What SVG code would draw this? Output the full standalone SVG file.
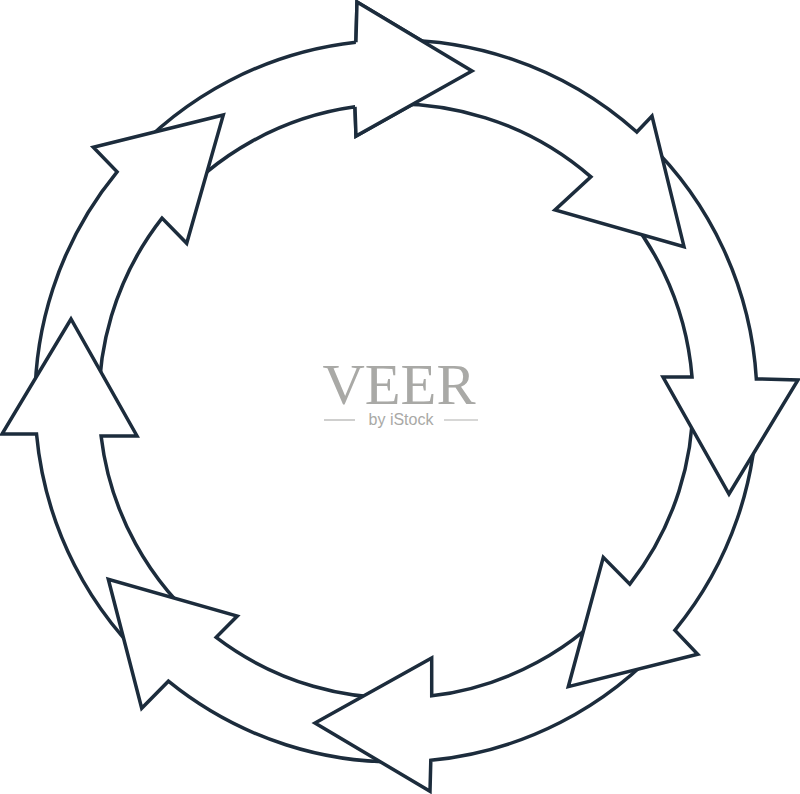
<svg xmlns="http://www.w3.org/2000/svg" width="800" height="794" viewBox="0 0 800 794">
<style>
.arr{fill:#ffffff;stroke:#1c2c3c;stroke-width:3.5;stroke-linejoin:miter;stroke-miterlimit:10}
.hfill{fill:#ffffff;stroke:none}
.hline{fill:none;stroke:#1c2c3c;stroke-width:3.5;stroke-linejoin:miter;stroke-miterlimit:10}
.wm{fill:#a9a9a6}
.wml{stroke:#b0b0ad;stroke-width:1.2}
</style>
<rect width="800" height="794" fill="#ffffff"/>
<g id="arrow-top">
<path class="arr" d="M 125.21,162.27 A 361 361 0 0 1 355.91,42.23 L 357,2 L 472,71 L 356,136 L 354.98,106.84 A 297 297 0 0 0 168.54,210.02 Z"/>
</g>
<g id="arrow-upper-left">
<path class="arr" d="M 35.58,421.39 A 361 361 0 0 1 117.09,171.80 L 93.3,147.3 L 223.3,115 L 186.7,243.3 L 162.02,218.08 A 297 297 0 0 0 100.04,425.79 Z"/>
</g>
<g id="arrow-left">
<path class="arr" d="M 158.69,673.03 A 361 361 0 0 1 36.51,433.95 L 2,434 L 71,319 L 137,436 L 101.09,436.11 A 297 297 0 0 0 208.01,630.93 Z"/>
</g>
<g id="arrow-lower-left">
<path class="arr" d="M 418.25,761.31 A 361 361 0 0 1 168.40,681.21 L 141.7,708.3 L 108.3,579.3 L 237.3,616 L 216.18,637.39 A 297 297 0 0 0 421.41,696.91 Z"/>
</g>
<g id="arrow-bottom">
<path class="arr" d="M 666.67,639.87 A 361 361 0 0 1 430.81,760.32 L 430,791.3 L 315,723 L 431.7,658 L 431.72,695.84 A 297 297 0 0 0 623.18,592.30 Z"/>
</g>
<g id="arrow-lower-right">
<path class="arr" d="M 756.87,391.51 A 361 361 0 0 1 674.84,630.29 L 697.7,654.3 L 568.3,686.7 L 603.3,557.3 L 629.80,584.15 A 297 297 0 0 0 692.69,387.35 Z"/>
</g>
<g id="arrow-right">
<path class="arr" d="M 646.01,140.59 A 361 361 0 0 1 756.33,378.92 L 798,380 L 729,494 L 663,377 L 692.03,377 A 297 297 0 0 0 598.63,183.85 Z"/>
</g>
<g id="arrow-upper-right">
<path class="arr" d="M 368.46,41.05 A 361 361 0 0 1 636.81,132.06 L 652,116 L 684,246.7 L 555,210 L 590.91,176.90 A 297 297 0 0 0 365.27,105.59 Z"/>
</g>
<g id="arrow-top-head">
<path class="hfill" d="M 355.91,42.23 L 357,2 L 472,71 L 356,136 L 354.98,106.84 Z"/>
<path class="hline" d="M 355.91,42.23 L 357,2 L 472,71 L 356,136 L 354.98,106.84"/>
</g>
<g id="watermark">
<text class="wm" x="399" y="404" text-anchor="middle" font-family="'Liberation Serif', 'Times New Roman', serif" font-size="58" textLength="153" lengthAdjust="spacingAndGlyphs">VEER</text>
<text class="wm" x="401" y="424.5" text-anchor="middle" font-family="'Liberation Sans', Arial, sans-serif" font-size="16">by iStock</text>
<line class="wml" x1="324" y1="420" x2="355" y2="420"/>
<line class="wml" x1="444" y1="420" x2="478" y2="420"/>
</g>
</svg>
